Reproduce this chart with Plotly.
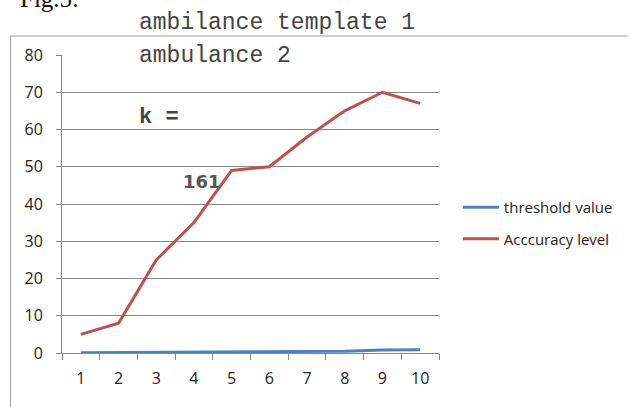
import plotly.graph_objects as go

categories = ["1", "2", "3", "4", "5", "6", "7", "8", "9", "10"]
threshold_value = [0.05, 0.1, 0.2, 0.25, 0.3, 0.45, 0.5, 0.5, 0.8, 0.9]
accuracy_level = [5, 8, 25, 35, 49, 50, 58, 65, 70, 67]
y_ticks = [0, 10, 20, 30, 40, 50, 60, 70, 80]

W, H = 630, 407
L, R, T, B = 62, 442, 55, 353

def px(x):
    return (x - L) / (R - L)

def py(y):
    return (B - y) / (B - T)

fig = go.Figure()
fig.add_trace(go.Scatter(x=categories, y=threshold_value, mode="lines",
                         name="threshold value", legendgroup="a",
                         line=dict(color="#4F81BD", width=3)))
fig.add_trace(go.Scatter(x=categories, y=accuracy_level, mode="lines",
                         name="Acccuracy level", legendgroup="b",
                         line=dict(color="#C0504D", width=3)))

tickfont = dict(family="Open Sans, Noto Sans, sans-serif", size=16, color="#222")

fig.update_layout(
    width=W, height=H,
    margin=dict(l=L, r=W - R, t=T, b=H - B, pad=0),
    paper_bgcolor="white", plot_bgcolor="white",
    showlegend=True,
    legend=dict(x=px(461), y=py(191), xanchor="left", yanchor="top",
                font=dict(family="Open Sans, Noto Sans, sans-serif", size=15, color="#222"),
                bgcolor="rgba(0,0,0,0)", itemwidth=36, tracegroupgap=9),
    xaxis=dict(type="category", tickson="boundaries", ticks="outside",
               range=[-0.5, 9.5],
               ticklen=6, tickcolor="#888", showline=True, linecolor="#888",
               linewidth=1, showgrid=False, tickfont=tickfont,
               ticklabelstandoff=11, fixedrange=True),
    yaxis=dict(range=[0, 80], tickvals=y_ticks, ticks="outside", ticklen=5,
               tickcolor="#888", showline=True, linecolor="#888", linewidth=1,
               showgrid=True, gridcolor="#888", gridwidth=1, zeroline=False,
               tickfont=tickfont, ticklabelstandoff=10, fixedrange=True),
)

# outer frame (left and top edges)
fig.add_shape(type="line", xref="paper", yref="paper",
              x0=px(10), x1=px(10), y0=py(36), y1=py(410),
              line=dict(color="#999", width=1), layer="below")
fig.add_shape(type="line", xref="paper", yref="paper",
              x0=px(10), x1=px(632), y0=py(36), y1=py(36),
              line=dict(color="#999", width=1), layer="below")

mono = dict(family="Liberation Mono, DejaVu Sans Mono, monospace", size=23, color="#444")

def txt(s, x, y, font, xanchor="left"):
    fig.add_annotation(text=s, xref="paper", yref="paper", x=px(x), y=py(y),
                       xanchor=xanchor, yanchor="middle", showarrow=False,
                       font=font)

txt("ambilance template 1", 138, 23, mono)
txt("ambulance 2", 138, 56, mono)
txt("<b>k =</b>", 138, 117, dict(mono, size=22))
txt("<b>161</b>", 182, 181, dict(family="DejaVu Sans, sans-serif", size=18, color="#555"))
txt("Fig.5:", 18, -2, dict(family="Liberation Serif, serif", size=25, color="#111"))

fig.write_html("out.html", config={"displayModeBar": False},
               post_script="document.body.style.margin='0px';")
